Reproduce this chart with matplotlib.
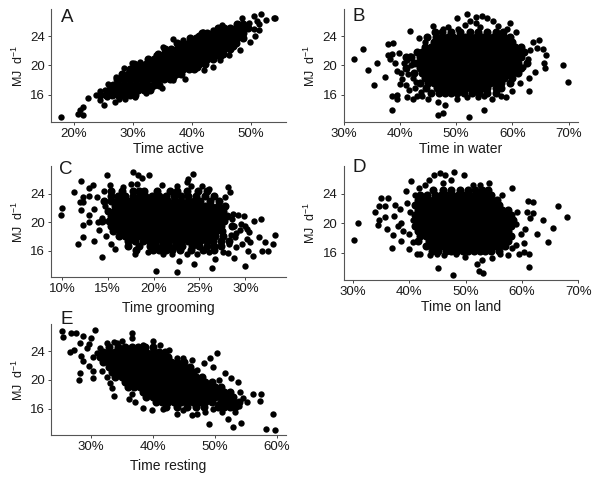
import matplotlib
matplotlib.use("Agg")
import matplotlib.pyplot as plt

plt.rcParams['font.family'] = ['Liberation Sans', 'DejaVu Sans']
plt.rcParams['mathtext.default'] = 'regular'

W, H = 600, 478

# outer points read one by one, (percent, MJ/d)
a_edge = [(17.8,13.0),(20.7,13.45),(21.6,14.3),(21.6,13.2),(21,13.9),(22.4,15.6),(23.8,16),(24.4,16.5),(25.2,16.6),
          (24.4,15.3),(25.1,14.6),(25.5,15.7),(27,15),(27.1,18.5),(25.8,17.5),(48.5,26.5),(50.4,26.8),(51.6,27),
          (52.5,26.2),(53.8,26.5),(54.1,26.5),(51,26),(50.4,25),(51.4,24.8),(49.8,23.2),(48.1,22.1),(46.3,21.4),
          (43.6,19.8),(42,19.4),(38.8,18.2),(28.4,19.6),(29.9,20.4),(31.2,20.5),(32.6,20.8),(33.9,21.4),(35.1,22.5),
          (36.8,23.6),(38.4,23.5),(39.9,23.2),(41.9,24.6),(43.6,24.8),(45,25.5),(47.9,25.6),(28.6,15.5),(30.3,15.7),
          (32.2,16.2),(34.9,17),(36.8,18),(44.7,20.8),(50.6,24),(49.6,25.8),(51.4,25.7),(28.3,15.9),(27.6,15.4)]
# solid middle of the cloud, MJ/d level: percents
a_core = {16.0: [24.4,25.4,26.4,27.4,28.4,29.4,30.4],
          16.7: [25.9,26.9,27.9,28.9,29.9,30.9,31.9,32.8],
          17.05: [27.1,28.1,29.1,30.1,31.1,32.1,33.1],
          17.4: [26.6,27.6,28.6,29.6,30.6,31.6,32.6,33.6,34.4],
          18.1: [27.3,28.3,29.3,30.3,31.3,32.3,33.3,34.3,35.3,36.2],
          18.45: [28.8,29.8,30.8,31.8,32.8,33.8,34.8,35.8,36.8],
          18.8: [28.2,29.2,30.2,31.2,32.2,33.2,34.2,35.2,36.2,37.2,38.2],
          19.5: [29.4,30.4,31.4,32.4,33.4,34.4,35.4,36.4,37.4,38.4,39.4,40.4],
          19.85: [30.9,31.9,32.9,33.9,34.9,35.9,36.9,37.9,38.9,39.9,40.9],
          20.2: [30.2,31.2,32.2,33.2,34.2,35.2,36.2,37.2,38.2,39.2,40.2,41.2,42.2],
          20.9: [32.6,33.6,34.6,35.6,36.6,37.6,38.6,39.6,40.6,41.6,42.6,43.6],
          21.25: [34.7,35.7,36.7,37.7,38.7,39.7,40.7,41.7,42.7,43.7,44.7],
          21.6: [34.2,35.2,36.2,37.2,38.2,39.2,40.2,41.2,42.2,43.2,44.2,45.2],
          22.3: [35.4,36.4,37.4,38.4,39.4,40.4,41.4,42.4,43.4,44.4,45.4,46.4],
          22.65: [37.9,38.9,39.9,40.9,41.9,42.9,43.9,44.9,45.9,46.9],
          23.0: [37.4,38.4,39.4,40.4,41.4,42.4,43.4,44.4,45.4,46.4,47.4],
          23.7: [39.6,40.6,41.6,42.6,43.6,44.6,45.6,46.6,47.6,48.6],
          24.05: [41.1,42.1,43.1,44.1,45.1,46.1,47.1,48.1],
          24.4: [41.6,42.6,43.6,44.6,45.6,46.6,47.6,48.6],
          25.1: [44.4,45.4,46.4,47.4,48.4,49.4],
          25.7: [47.6,48.6]}

b_edge = [(31.8,20.9),(33.5,22.3),(34.3,19.4),(36,20.4),(35.3,17.4),(37.3,18.5),(37.9,22.9),(38.8,23),(37.8,21.4),
          (38.5,21.6),(38.2,20.9),(39.1,20.3),(39.4,19.3),(38.6,15.8),(38.6,14),(39.5,15.4),(39.5,16),(41.2,15.7),
          (41.8,24.7),(43.4,23.8),(44.5,23.2),(45.9,25.4),(47.7,25),(48.6,25.3),(50.1,26.5),(52,27),(52.4,26),
          (53.6,26.6),(54.5,26.8),(55.5,26.5),(56.5,26),(59.6,25.8),(60.7,24.5),(50.4,25),(51.6,25.5),(53.6,25.8),
          (54.2,25.3),(57.5,25.4),(59,25),(68.9,20),(69.8,17.8),(66,21.4),(65.5,22.2),(64.8,23.5),(63.7,23.2),
          (63.1,22.1),(65.6,20.3),(65.7,19.7),(64,19.1),(63,18.3),(63,16.5),(61.3,17.6),(60,16.5),(60.7,21),(61.9,19.8),
          (52.2,13),(54.9,13.9),(46.8,13.2),(47.6,13.5),(48,14.6),(46.8,15),(50.1,15.4),(52,15.7),(53.8,15.7),(55,15.8),
          (56.3,15.5),(58,15.8),(58.8,15.7),(42.4,15.5),(45,15.5),(39.8,21.7),(40.2,19),(40.4,18.2),(41,17.3),(41.6,16.6),
          (42.4,18.3),(42.7,16.9),(43.7,16.4),(40.8,20.3),(41.8,21.3),(62.8,20.9),(64.3,22.4),(40,17.5),(41.5,18.8),
          (43,15.9),(42,20),(41.2,20.7),(42.8,17.7),(44,15.8)]
b_core = {24.6: [46.2,47.4,49,50.6,52.4,53.8,55.4,57,58.4],
          23.9: [44.8,46.4,47.5,48.5,49.5,50.5,51.5,52.5,53.5,54.5,55.5,56.5,57.5,58.5,59.6],
          23.2: [46,47,48,49,50,51,52,53,54,55,56,57,58,59,60],
          22.5: [44.5,45.5,46.5,47.5,48.5,49.5,50.5,51.5,52.5,53.5,54.5,55.5,56.5,57.5,58.5,59.5,60.5,61.5],
          22.15: [45,46,47,48,49,50,51,52,53,54,55,56,57,58,59,60],
          21.8: [43,44,45,46,47,48,49,50,51,52,53,54,55,56,57,58,59,60,61,62],
          21.1: [41,42,43.5,44.5,45.5,46.5,47.5,48.5,49.5,50.5,51.5,52.5,53.5,54.5,55.5,56.5,57.5,58.5,59.5,60.5,61.5],
          20.75: [44,45,46,47,48,49,50,51,52,53,54,55,56,57,58,59,60],
          20.4: [42.5,43,44,45,46,47,48,49,50,51,52,53,54,55,56,57,58,59,60,61,62.5],
          19.7: [41,43.5,44.5,45.5,46.5,47.5,48.5,49.5,50.5,51.5,52.5,53.5,54.5,55.5,56.5,57.5,58.5,59.5,60.5,61.5],
          19.0: [42.5,44,45,46,47,48,49,50,51,52,53,54,55,56,57,58,59,60,61],
          18.65: [45,46,47,48,49,50,51,52,53,54,55,56,57,58,59],
          18.3: [44.5,45.5,46.5,47.5,48.5,49.5,50.5,51.5,52.5,53.5,54.5,55.5,56.5,57.5,58.5,60],
          17.6: [43.5,45,46,47,48,49,50,51,52,53,54,55,56,57,58,59.5],
          16.9: [44.6,46.5,47.5,48.5,49.5,50.5,51.5,52.5,53.5,54.5,55.5,57,58],
          16.3: [45.5,47,48,49,50.2,51.4,52.8,54,55.4,57]}

c_edge = [(10,22),(9.9,21),(11.3,24.2),(12.1,25.8),(11.8,17),(12.3,17.9),(13.5,17.4),(14.4,15.1),(20.3,13.2),(22.5,13),
          (26.4,13.5),(24.4,14.1),(26.7,14.9),(28.8,15),(30,13.9),(30.8,15.3),(22.8,14.6),(31.7,20.5),(33.2,18.2),(33,17),
          (32.5,15.9),(32.1,17.2),(31.8,16),(31.5,17.9),(30.3,16),(30.9,20.2),(14.9,26.6),(17.7,27.1),(18.3,26.6),(19.5,26.6),
          (18.7,26.2),(24.3,26.8),(23.8,26.1),(23.6,25.7),(20.9,25.3),(22.6,25.1),(24.1,25.1),(25.3,25.1),(26,24.6),(28.1,24.9),
          (28.3,24.3),(27.8,23.5),(13.4,25.3),(12.9,24.8),(13.8,23.5),(12.9,23.7),(12.3,23.5),(12,22.9),(12.3,22.9),(12.1,21.7),
          (12.3,19.6),(12.9,20),(14,18.9),(14.8,18.1),(15.4,17),(15.8,16.3),(18,15.5),(19.4,15.8),(21,15.5),(22,15.6),(23.6,15.6),
          (24.7,15.6),(26,15.8),(27.6,15.8),(28.1,15.7),(13,21),(13.5,21.9),(13.9,20),(14.4,20.6),(14.7,22.3),(14.6,24.4),(15.2,25.2),
          (16.7,25),(17.5,25.4),(18.2,25.4),(29.2,21),(29.9,20.9),(30,19.5),(30.4,18.6),(29.4,18.9),(28.9,17.9),(29.6,17),(30.2,17.7),
          (28.6,20.5),(28.8,19.5),(29,18.5),(28.4,18.2),(28.2,17),(29,16.5),(28.7,21.2),(29.5,19.8),(30.2,19),(30.5,17.2)]
c_core = {24.4: [15.4,16.6,17.8,18.4,19,20.4,21.8,22.6,23.6,24.8,25.8],
          23.7: [15.4,16.1,16.9,17.7,18.5,19.1,19.8,20.6,21.4,22.2,23,23.8,24.6,25.6,26.6],
          23.0: [14.6,15.3,16,16.7,17.4,18.1,18.8,19.5,20.2,20.9,21.6,22.3,23,23.7,24.4,25.1,26.1,27.1],
          22.3: [15.8,16.5,17.2,17.9,18.6,19.3,20,20.7,21.4,22.1,22.8,23.5,24.2,24.9,25.6,26.3,27,27.8],
          21.95: [16.2,16.9,17.6,18.3,19,19.7,20.4,21.1,21.8,22.5,23.2,23.9,24.6,25.3,26,26.7],
          21.6: [15,15.7,16.4,17.1,17.8,18.5,19.2,19.9,20.6,21.3,22,22.7,23.4,24.1,24.8,25.5,26.2,26.9,27.6],
          20.9: [15.4,16.1,16.8,17.5,18.2,18.9,19.6,20.3,21,21.7,22.4,23.1,23.8,24.5,25.2,25.9,26.6,27.3,28],
          20.55: [15.8,16.5,17.2,17.9,18.6,19.3,20,20.7,21.4,22.1,22.8,23.5,24.2,24.9,25.6,26.3,27],
          20.2: [14.4,15.1,15.8,16.5,17.2,17.9,18.6,19.3,20,20.7,21.4,22.1,22.8,23.5,24.2,24.9,25.6,26.3,27,27.7],
          19.5: [15.4,16.1,16.8,17.5,18.2,18.9,19.6,20.3,21,21.7,22.4,23.1,23.8,24.5,25.2,25.9,26.6,27.3,28.6],
          19.15: [16,16.7,17.4,18.1,18.8,19.5,20.2,20.9,21.6,22.3,23,23.7,24.4,25.1,25.8,26.5,27.2],
          18.8: [15.6,16.3,17,17.7,18.4,19.1,19.8,20.5,21.2,21.9,22.6,23.3,24,24.7,25.4,26.1,26.8,27.5],
          18.45: [17.3,18,18.7,19.4,20.1,20.8,21.5,22.2,22.9,23.6,24.3,25,25.7,26.4],
          18.1: [16.2,16.9,17.6,18.3,19,19.7,20.4,21.1,21.8,22.5,23.2,23.9,24.6,25.3,26,26.7,27.6],
          17.4: [17.2,18,18.8,19.5,20.2,20.9,21.6,22.3,23,23.7,24.4,25.1,25.8,26.5,27.4,28.2],
          16.7: [17.2,18.4,19.6,20.3,21,21.7,22.4,23.1,24.2,25,25.8,26.6,27.4],
          16.1: [18.1,19.9,20.6,21.3,22,22.9,24.1,25.4,26.6]}

d_edge = [(30.2,17.8),(31,20),(34,21.5),(34.6,22.3),(34.6,20.4),(34.4,19.8),(36,19.2),(36.9,16.6),(37.1,18.4),(35.1,23.4),
          (36.3,23.4),(35.7,22.3),(35.7,20.9),(38.5,17.6),(40,16.5),(41.4,15.8),(42,15.8),(40.4,25.8),(43.6,25.9),(44.5,26.6),
          (45.4,26.8),(46.4,26.6),(47.9,27),(49.8,26.6),(47.5,25.9),(46,25.5),(45.2,13.9),(47.8,13),(52.4,13.5),(53.1,13.3),
          (61.3,14),(58.2,24.8),(56.4,23.8),(54.1,25.5),(51.4,25.2),(52.6,25.2),(68,20.9),(66.4,22.4),(63.8,20.4),(65.6,19.4),
          (64.6,17.4),(62.6,18.5),(61.1,23),(61.9,22.9),(62,21.4),(60.9,21.6),(61.5,20.7),(60.6,19.3),(60.3,17.3),(61.3,15.9),
          (60.4,16.1),(59.1,21.6),(57.6,15.7),(56.2,15.9),(54.7,15.3),(52,14.5),(53,15),(49.9,15.4),(46.1,15.7),(44.9,15.9),
          (43.7,15.7),(48.4,15.9),(37.5,22.5),(37.4,21),(38.3,22),(38.6,20),(38,19.6),(39,19),(39.6,22.8),(39.4,24.4),(40.2,21.5),
          (40,18.6),(40.6,20.5),(41,23.9),(41.8,24.8),(42.8,25.2),(40.6,17.5),(59.8,18.5),(58.9,17),(59,19.9),(58.2,16.6),(59.5,15.9)]
d_core = {24.6: [44.2,46,47.4,49,50.4,51.6,53,54],
          23.9: [42,43.2,44.6,45.6,46.6,47.6,48.6,49.6,50.6,51.6,52.6,53.6,54.6],
          23.2: [41.5,42.5,43.5,44.5,45.5,46.5,47.5,48.5,49.5,50.5,51.5,52.5,53.5,54.5,55.5],
          22.5: [41,42,43,44,45,46,47,48,49,50,51,52,53,54,55,56],
          22.15: [42,43,44,45,46,47,48,49,50,51,52,53,54,55,56],
          21.8: [41.5,42.5,43.5,44.5,45.5,46.5,47.5,48.5,49.5,50.5,51.5,52.5,53.5,54.5,55.5,56.5,57.5],
          21.1: [41,42,43,44,45,46,47,48,49,50,51,52,53,54,55,56,57,58],
          20.75: [42,43,44,45,46,47,48,49,50,51,52,53,54,55,56,57],
          20.4: [41.5,42.5,43.5,44.5,45.5,46.5,47.5,48.5,49.5,50.5,51.5,52.5,53.5,54.5,55.5,56.5,57.5,58.5],
          19.7: [41,42,43,44,45,46,47,48,49,50,51,52,53,54,55,56,57,58],
          19.0: [41.5,42.5,43.5,44.5,45.5,46.5,47.5,48.5,49.5,50.5,51.5,52.5,53.5,54.5,55.5,56.5,57.5],
          18.65: [42,43,44,45,46,47,48,49,50,51,52,53,54,55,56,57],
          18.3: [42,43,44,45,46,47,48,49,50,51,52,53,54,55,56,57,58],
          17.6: [41.5,43.5,44.5,45.5,46.5,47.5,48.5,49.5,50.5,51.5,52.5,53.5,54.5,55.5,56.5,57.5],
          16.9: [43,44,45,46,47,48,49,50,51,52,53,54,55,56,57],
          16.3: [44,45.2,46.5,47.5,48.5,49.5,50.5,51.5,52.5,53.5,54.6,56]}

e_edge = [(25.3,26.8),(25.5,26),(26.8,26.5),(27.7,26.6),(26.7,23.9),(27.3,24.1),(28.7,26.1),(30.1,25.9),(30.7,27),(28.4,23.4),
          (28.7,22.7),(28.3,25.1),(29.4,24.4),(29.8,22),(28.3,20.9),(28.1,20),(30.3,20.2),(30.4,21.3),(32.6,20.4),(33.1,19.5),
          (33.7,17.7),(33.5,18.8),(36.2,17.3),(37.2,16.9),(36.6,18),(38.4,16.1),(39.9,15.8),(41.6,16),(43.9,15.3),(44.9,15.8),
          (46.3,15.1),(47.1,15.2),(49.1,13.9),(52.2,14.6),(53,13.4),(54.2,14),(58.2,13.2),(59.7,13),(59.4,15.2),(57.4,18),(57.3,17),
          (56.1,18),(55.2,16.9),(49.2,23),(50.3,23.7),(48.2,22.3),(49.8,21.8),(51.7,21),(52.7,20.2),(53.8,19.7),(36.6,26.6),(40,25.4),
          (41.2,24.8),(42.7,24.2),(43.9,23.1),(44.9,23.1),(46.3,22.8),(35,25.4),(33.7,25.3),(32.6,25.1),(36.6,25.8),(31.5,24.4),
          (54.1,18.3),(53.3,15.5),(51.1,15.5),(49.8,16),(48.4,15.5),(29.8,25),(30.3,23.2),(31,23.8),(31.8,21.2),(34.2,25.2),(38.4,24.8),
          (47.2,21.4),(50.7,20),(54.5,17.5),(53.9,16.4),(52.9,16.2),(50.6,16.6)]
e_core = {24.6: [33,34.4,35.6,36.6,37.6,38.8,40],
          23.9: [32,33,34,35,36,37,38,39,40,41,42],
          23.2: [31.5,32.5,33.5,34.5,35.5,36.5,37.5,38.5,39.5,40.5,41.5,42.5],
          22.5: [32,33,34,35,36,37,38,39,40,41,42,43,44,45],
          22.15: [33.5,34.5,35.5,36.5,37.5,38.5,39.5,40.5,41.5,42.5,43.5,44.5],
          21.8: [33,34,35,36,37,38,39,40,41,42,43,44,45,46],
          21.1: [33.5,34.5,35.5,36.5,37.5,38.5,39.5,40.5,41.5,42.5,43.5,44.5,45.5,46.5],
          20.75: [35,36,37,38,39,40,41,42,43,44,45,46],
          20.4: [34,35,36,37,38,39,40,41,42,43,44,45,46,47,48],
          19.7: [35.5,36.5,37.5,38.5,39.5,40.5,41.5,42.5,43.5,44.5,45.5,46.5,47.5,48.5,49.5],
          19.35: [37,38,39,40,41,42,43,44,45,46,47,48,49],
          19.0: [36,37,38,39,40,41,42,43,44,45,46,47,48,49,50,51],
          18.3: [38.5,39.5,40.5,41.5,42.5,43.5,44.5,45.5,46.5,47.5,48.5,49.5,50.5,51.5,52.5],
          17.95: [40,41,42,43,44,45,46,47,48,49,50,51,52],
          17.6: [39,40,41,42,43,44,45,46,47,48,49,50,51,52,53],
          16.9: [40.5,41.5,42.5,43.5,44.5,45.5,46.5,47.5,48.5,49.5,51,52,53,54],
          16.2: [42.2,44,45.5,47,48.2,50.5,51.5,52.5,53.2]}

letters = ["A", "B", "C", "D", "E"]
xlabels = ["Time active", "Time in water", "Time grooming", "Time on land", "Time resting"]
xticks = [[20, 30, 40, 50], [30, 40, 50, 60, 70], [10, 15, 20, 25, 30], [30, 40, 50, 60, 70], [30, 40, 50, 60]]
yticks = [16, 20, 24]
edges = [a_edge, b_edge, c_edge, d_edge, e_edge]
cores = [a_core, b_core, c_core, d_core, e_core]

# axes box in pixels: left, right, top, bottom
boxes = [(51, 286, 9, 122), (343.7, 577.7, 9, 122), (51, 286, 166, 277), (343.7, 578.3, 166, 280), (51, 286, 324, 435)]
xlims = [(16.1, 55.9), (30, 71.6), (8.8, 34.44), (28.4, 70), (23.6, 61.5)]
ylims = [(12.3, 27.7), (12.3, 27.7), (12.3, 27.9), (12.3, 27.8), (12.3, 27.8)]
label_pads = [1.5, 1.5, 4, 1.5, 4]
# panel letter baseline in pixels
letter_xy = [(61, 22), (352, 21), (59, 174), (353, 172), (61, 324)]

fig = plt.figure(figsize=(W / 100, H / 100), dpi=100)

for i in range(5):
    left, right, top, bottom = boxes[i]
    ax = fig.add_axes([left / W, 1 - bottom / H, (right - left) / W, (bottom - top) / H])

    ax.scatter([p[0] for p in edges[i]], [p[1] for p in edges[i]], s=21, c="black", linewidths=0, clip_on=False)
    xs = []
    ys = []
    for level, row in cores[i].items():
        xs += row
        ys += [level] * len(row)
    # core markers a bit larger so the middle of the cloud closes up
    ax.scatter(xs, ys, s=34, c="black", linewidths=0, clip_on=False)

    ax.set_xlim(xlims[i])
    ax.set_ylim(ylims[i])
    ax.set_xticks(xticks[i])
    ax.set_xticklabels([str(t) + "%" for t in xticks[i]])
    ax.set_yticks(yticks)
    ax.tick_params(length=2.5, width=0.7, color="#444444", labelsize=9.5, labelcolor="#1a1a1a", pad=2)
    ax.spines["top"].set_visible(False)
    ax.spines["right"].set_visible(False)
    ax.spines["left"].set_color("#555555")
    ax.spines["bottom"].set_color("#555555")
    ax.set_xlabel(xlabels[i], fontsize=10, color="#1a1a1a", labelpad=label_pads[i])
    ax.set_ylabel("MJ  d$^{-1}$", fontsize=9, color="#1a1a1a", labelpad=3)
    fig.text(letter_xy[i][0] / W, 1 - letter_xy[i][1] / H, letters[i], fontsize=13.5, color="#1a1a1a", va="baseline", ha="left")

fig.savefig("out.png", dpi=100)
